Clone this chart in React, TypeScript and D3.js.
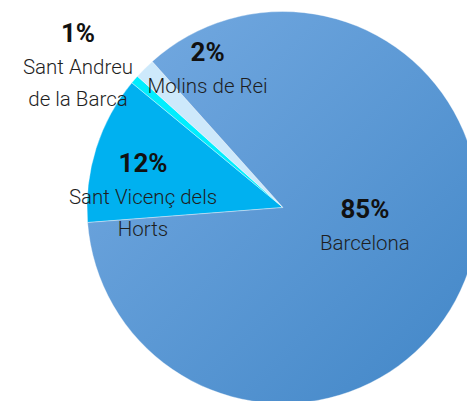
import React from "react";
import * as d3 from "d3";

const categories = ["Sant Vicenç dels Horts", "Sant Andreu de la Barca", "Molins de Rei", "Barcelona"];
const nameLines = [["Sant Vicenç dels", "Horts"], ["Sant Andreu", "de la Barca"], ["Molins de Rei"], ["Barcelona"]];
const values = [12.2, 0.7, 1.7, 85.4];
const colors = ["#00b1f0", "#00eeff", "#cde9fb", "url(#barcaGrad)"];

// layout (label anchors relative to pie centre, in units of radius)
const W = 467, H = 401;
const CX = 283, CY = 207.5, R = 196;
const START_DEG = 265.6;
const labelOffsets = [[-0.714, -0.179], [-1.046, -0.844], [-0.385, -0.745], [0.418, 0.056]];

export default function App() {
  const total = d3.sum(values);
  const start = (START_DEG * Math.PI) / 180;
  const pie = d3.pie<number>().sort(null).value((d) => d).startAngle(start).endAngle(start + 2 * Math.PI);
  const arcs = pie(values);
  const arc = d3.arc<d3.PieArcDatum<number>>().innerRadius(0).outerRadius(R);
  const fmt = d3.format(".0%");
  const font = "Roboto, 'Noto Sans', sans-serif";
  return (
    <svg width={W} height={H} style={{ position: "absolute", left: 0, top: 0 }}>
      <defs>
        <linearGradient id="barcaGrad" gradientUnits="userSpaceOnUse" x1={-R} y1={-R} x2={R} y2={R}>
          <stop offset="0" stopColor="#76abe2" />
          <stop offset="1" stopColor="#4186c7" />
        </linearGradient>
      </defs>
      <g transform={`translate(${CX},${CY})`}>
        {arcs.map((a, i) => (
          <path key={categories[i]} d={arc(a) || ""} fill={colors[i]} stroke="#ffffff" strokeWidth={0.6} strokeOpacity={0.6} />
        ))}
        {arcs.map((a, i) => {
          const [ox, oy] = labelOffsets[i];
          const x = ox * R, y = oy * R;
          return (
            <g key={"l" + i} fontFamily={font} textAnchor="middle">
              <text x={x} y={y} fontSize={26} fontWeight={700} fill="#111111">
                {fmt(values[i] / total)}
              </text>
              {nameLines[i].map((ln, j) => (
                <text key={j} x={x} y={y + 32 * (j + 1)} fontSize={20.5} fontWeight={300} fill="#1e1e1e">
                  {ln}
                </text>
              ))}
            </g>
          );
        })}
      </g>
    </svg>
  );
}
